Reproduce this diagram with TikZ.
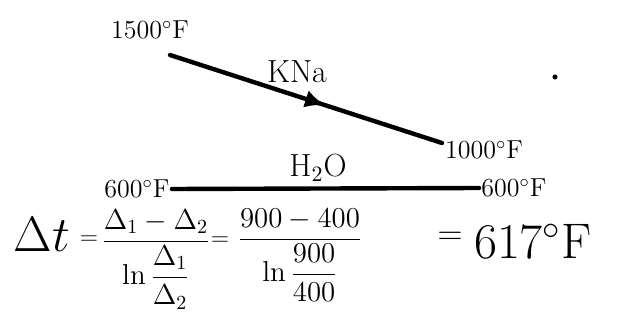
\documentclass[tikz,border=0pt]{standalone}
\usepackage{amsmath}
\usepackage{tikz}
\usetikzlibrary{arrows.meta,decorations.markings}

\begin{document}
\begin{tikzpicture}[x=0.5pt,y=-0.5pt,
    templabel/.style={font=\fontsize{13}{15}\selectfont, inner sep=1pt},
    fluidlabel/.style={font=\fontsize{16}{18}\selectfont, inner sep=1pt},
    flowline/.style={line width=2.2pt, line cap=round},
    midarrow/.style={postaction={decorate},
      decoration={markings, mark=at position 0.57 with {\arrow{Latex[length=10pt,width=9pt]}}}}]
\useasboundingbox (0,0) rectangle (618,332);
% KNa stream
\node[templabel] (hotin) at (150,30) {1500$^\circ$F};
\node[templabel] (hotout) at (484,150) {1000$^\circ$F};
\coordinate (hotstart) at (170,55);
\coordinate (hotend) at (442,143);
\draw[flowline, midarrow] (hotstart) -- (hotend);
\node[fluidlabel] (kna) at (297,72) {KNa};
\fill (555,77) circle (1.3pt);
% H2O stream
\node[templabel] (coldin) at (137,189) {600$^\circ$F};
\node[templabel] (coldout) at (514,188) {600$^\circ$F};
\draw[flowline] (coldin.east) -- (coldout.west);
\node[fluidlabel] (water) at (318,168) {H$_2$O};
% log mean temperature difference
\node[font=\fontsize{23}{25}\selectfont, anchor=base] (dt) at (42,252) {$\Delta t$};
\node[font=\fontsize{12}{14}\selectfont, anchor=base] (eqa) at (89,244) {$=$};
\node[font=\fontsize{14}{16}\selectfont, anchor=base] (fraca) at (156,249)
  {$\dfrac{\Delta_1-\Delta_2}{\ln\dfrac{\Delta_1}{\Delta_2}}$};
\node[font=\fontsize{12}{14}\selectfont, anchor=base] (eqb) at (220,246) {$=$};
\node[font=\fontsize{14}{16}\selectfont, anchor=base] (fracb) at (300,247)
  {$\dfrac{900-400}{\ln\dfrac{900}{400}}$};
\node[font=\fontsize{16}{18}\selectfont, anchor=base] (eqc) at (450,245) {$=$};
\node[font=\fontsize{25}{28}\selectfont, anchor=base west] (result) at (467,258) {617$^\circ$F};
\end{tikzpicture}
\end{document}
